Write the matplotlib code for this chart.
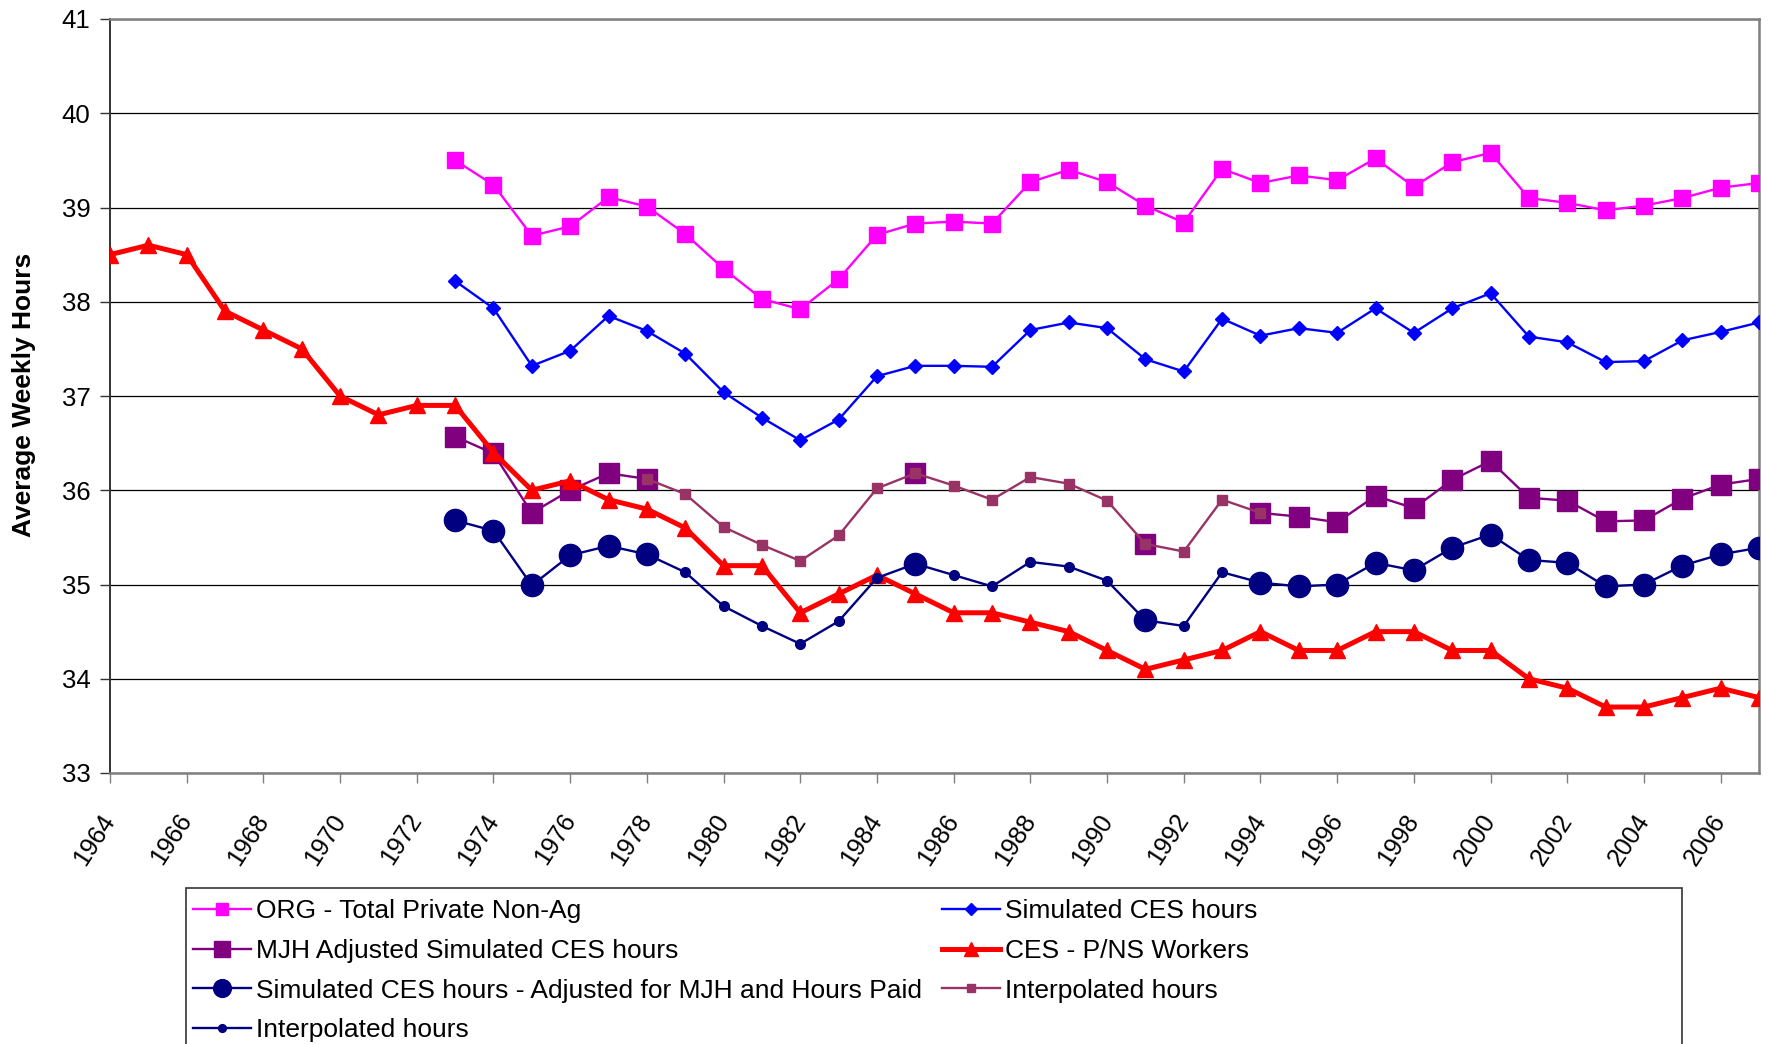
import numpy as np
import matplotlib
matplotlib.use("Agg")
import matplotlib.pyplot as plt
from matplotlib.patches import Rectangle

plt.rcParams['font.family'] = ['Liberation Sans', 'DejaVu Sans']

# ---------------- data ----------------
years_ces = list(range(1964, 2008))
ces_pns = [38.5, 38.6, 38.5, 37.9, 37.7, 37.5, 37.0, 36.8, 36.9, 36.9,
           36.4, 36.0, 36.1, 35.9, 35.8, 35.6, 35.2, 35.2, 34.7, 34.9,
           35.1, 34.9, 34.7, 34.7, 34.6, 34.5, 34.3, 34.1, 34.2, 34.3,
           34.5, 34.3, 34.3, 34.5, 34.5, 34.3, 34.3, 34.0, 33.9, 33.7,
           33.7, 33.8, 33.9, 33.8]

years_sim = list(range(1973, 2008))
org_total = [39.50, 39.24, 38.70, 38.80, 39.11, 39.01, 38.72, 38.35, 38.03, 37.92,
             38.24, 38.71, 38.83, 38.85, 38.83, 39.27, 39.40, 39.27, 39.02, 38.84,
             39.41, 39.26, 39.34, 39.29, 39.52, 39.22, 39.48, 39.58, 39.10, 39.05,
             38.97, 39.02, 39.10, 39.21, 39.26]
sim_ces = [38.22, 37.93, 37.32, 37.48, 37.85, 37.69, 37.45, 37.04, 36.77, 36.53,
           36.75, 37.21, 37.32, 37.32, 37.31, 37.70, 37.78, 37.72, 37.39, 37.26,
           37.82, 37.64, 37.72, 37.67, 37.93, 37.67, 37.93, 38.09, 37.63, 37.57,
           37.36, 37.37, 37.59, 37.68, 37.78]
nan = np.nan
mjh_adj = [36.57, 36.39, 35.76, 36.00, 36.18, 36.12, nan, nan, nan, nan,
           nan, nan, 36.18, nan, nan, nan, nan, nan, 35.43, nan,
           nan, 35.76, 35.72, 35.66, 35.94, 35.81, 36.11, 36.31, 35.92, 35.89,
           35.67, 35.68, 35.91, 36.06, 36.12]
sim_adj_paid = [35.68, 35.57, 34.99, 35.31, 35.41, 35.32, nan, nan, nan, nan,
                nan, nan, 35.22, nan, nan, nan, nan, nan, 34.62, nan,
                nan, 35.02, 34.98, 35.00, 35.23, 35.15, 35.39, 35.53, 35.26, 35.23,
                34.98, 35.00, 35.20, 35.32, 35.39]

years_interp = list(range(1978, 1995))
interp_mjh = [36.12, 35.96, 35.61, 35.42, 35.25, 35.52, 36.02, 36.18, 36.05, 35.90,
              36.14, 36.07, 35.89, 35.43, 35.35, 35.90, 35.76]
interp_paid = [35.32, 35.13, 34.77, 34.56, 34.37, 34.61, 35.07, 35.22, 35.10, 34.98,
               35.24, 35.19, 35.04, 34.62, 34.56, 35.13, 35.02]

labels = ["ORG - Total Private Non-Ag", "Simulated CES hours",
          "MJH Adjusted Simulated CES hours", "CES - P/NS Workers",
          "Simulated CES hours - Adjusted for MJH and Hours Paid",
          "Interpolated hours", "Interpolated hours"]
xticks = list(range(1964, 2007, 2))
yticks = list(range(33, 42))

# ---------------- figure ----------------
W, H = 1770, 1044
fig = plt.figure(figsize=(W / 100, H / 100), dpi=100)
ax = fig.add_axes([110 / W, 1 - 773 / H, (1759 - 110) / W, (773 - 19) / H])

h_org, = ax.plot(years_sim, org_total, color='#FF00FF', lw=1.7, marker='s', ms=11,
                 mec='#FF00FF', mfc='#FF00FF', zorder=3)
h_sim, = ax.plot(years_sim, sim_ces, color='#0000FF', lw=1.7, marker='D', ms=7.5,
                 mec='#0000FF', mfc='#0000FF', zorder=4)
h_mjh, = ax.plot(years_sim, mjh_adj, color='#800080', lw=1.7, marker='s', ms=14,
                 mec='#800080', mfc='#800080', zorder=5)
h_ces, = ax.plot(years_ces, ces_pns, color='#FF0000', lw=3.6, marker='^', ms=12,
                 mec='#FF0000', mfc='#FF0000', zorder=6)
h_adj, = ax.plot(years_sim, sim_adj_paid, color='#000080', lw=1.7, marker='o', ms=16,
                 mec='#000080', mfc='#000080', zorder=7)
h_i1, = ax.plot(years_interp, interp_mjh, color='#993366', lw=1.7, marker='s', ms=7,
                mec='#993366', mfc='#993366', zorder=8)
h_i2, = ax.plot(years_interp, interp_paid, color='#000080', lw=1.7, marker='o', ms=7,
                mec='#000080', mfc='#000080', zorder=9)

ax.set_xlim(1964, 2007)
ax.set_ylim(33, 41)
ax.set_yticks(yticks)
ax.set_yticklabels([str(v) for v in yticks], fontsize=18.5)
ax.set_xticks(xticks)
ax.set_xticklabels([str(v) for v in xticks], fontsize=18, rotation=57,
                   ha='right', va='center', rotation_mode='anchor')
ax.tick_params(axis='x', length=7, width=1, color='#808080', pad=24)
ax.tick_params(axis='y', length=7, width=1, color='#333333', pad=7)
ax.grid(axis='y', color='black', lw=0.9, zorder=1)
ax.set_axisbelow(True)
for side in ['bottom', 'right', 'top']:
    ax.spines[side].set_color('#808080')
    ax.spines[side].set_linewidth(1.8)
ax.spines['left'].set_color('#333333')
ax.spines['left'].set_linewidth(1.4)

fig.text(24 / W, 1 - 395 / H, "Average Weekly Hours", rotation=90, fontsize=19,
         fontweight='bold', ha='center', va='center')

# legend frame (extends beyond the bottom of the figure)
fig.patches.append(Rectangle((186 / W, -0.1), (1682 - 186) / W, 0.1 + (1 - 888 / H),
                             transform=fig.transFigure, fill=False,
                             edgecolor='#333333', lw=1.2))

handles = [h_org, h_mjh, h_adj, h_i2, h_sim, h_ces, h_i1]
leg_labels = [labels[0], labels[2], labels[4], labels[6], labels[1], labels[3], labels[5]]
fig.legend(handles, leg_labels, loc='upper left',
           bbox_to_anchor=(193 / W, 1 - 899 / H), ncol=2, frameon=False,
           fontsize=19, handlelength=2.2, handletextpad=0.2,
           columnspacing=0.75, labelspacing=0.6, borderpad=0, borderaxespad=0,
           markerscale=0.8)

fig.savefig("out.png", dpi=100)
